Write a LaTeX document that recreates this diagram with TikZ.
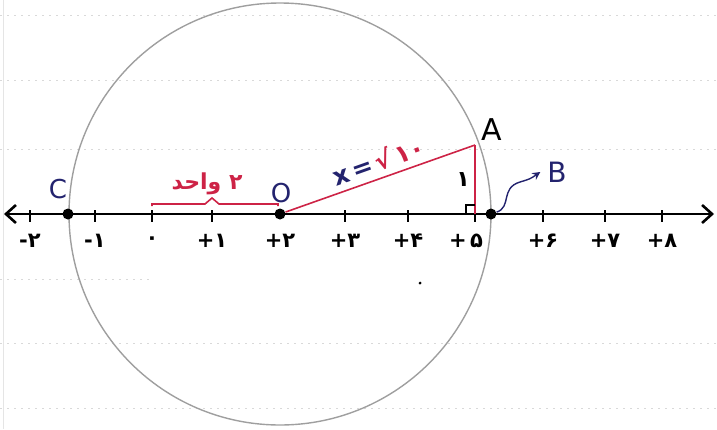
\documentclass[tikz,border=0pt]{standalone}
\usepackage{fontspec}
\setmainfont{DejaVu Sans}
\newfontfamily\arabicfont[Script=Arabic]{DejaVu Sans}
\TeXXeTstate=1
\usetikzlibrary{arrows.meta}
\definecolor{inkred}{RGB}{205,35,70}
\definecolor{inknavy}{RGB}{35,35,110}
\tikzset{
  axisline/.style={line width=1.3pt, black, {Straight Barb[length=5pt,width=9pt]}-{Straight Barb[length=5pt,width=9pt]}},
  tick/.style={line width=1pt, black},
  dot/.style={circle, fill=black, inner sep=0pt, minimum size=5.5pt},
  numlabel/.style={font=\bfseries\fontsize{10.5}{11}\selectfont, black},
  ptlabel/.style={font=\fontsize{13}{14}\selectfont},
  paperline/.style={gray!30, line width=0.4pt, dash pattern=on 1pt off 2.5pt},
  circ/.style={gray!75, line width=0.7pt},
  redline/.style={inkred, line width=0.8pt},
}
\begin{document}
\begin{tikzpicture}[x=0.5pt,y=-0.5pt]
\useasboundingbox (0,0) rectangle (717,429);
% faint notebook lines
\foreach \yy in {15,80,149,343,408} \draw[paperline] (0,\yy) -- (717,\yy);
\draw[paperline] (0,279) -- (150,279);
\draw[gray!20, line width=0.3pt] (3,0) -- (3,429);
% circle
\coordinate (Oc) at (280,214);
\draw[circ] (Oc) circle[radius=211];
% axis
\coordinate (L) at (4,214);
\coordinate (R) at (714,214);
\draw[axisline] (L) -- (R);
% ticks and labels
\foreach \xx/\lab in {30/-۲,95/-۱,152/۰,212/+۱,345/+۳,408/+۴,543/+۶,605/+۷,662/+۸}{
  \draw[tick] (\xx,210) -- (\xx,222);
  \node[numlabel] at (\xx,241) {\lab};
}
\node[numlabel] at (280,241) {+۲};
\node[numlabel] at (466,241) {+\,۵};
\draw[tick] (475,210) -- (475,222);
% points
\node[dot] (C) at (68,214) {};
\node[dot] (O) at (280,214) {};
\node[dot] (B) at (491,214) {};
\coordinate (A) at (475,145);
\coordinate (F) at (475,214);
\node[ptlabel, inknavy] (Clab) at (58,189) {C};
\node[ptlabel, inknavy] (Olab) at (281,193) {O};
\node[ptlabel, black, font=\fontsize{15}{16}\selectfont] (Alab) at (492,130) {A};
\node[ptlabel, inknavy, font=\fontsize{14}{15}\selectfont] (Blab) at (557,172) {B};
% triangle
\draw[redline] (O) -- node[sloped, above, pos=0.52, inner sep=3pt, font=\bfseries\fontsize{12.5}{13}\selectfont]
  {\textcolor{inknavy}{x\,=\,}\textcolor{inkred}{√\,۱۰}} (A);
\draw[redline, line width=1.1pt] (A) -- (F);
\draw[black, line width=0.7pt] (475,205) -- (466,205) -- (466,214);
\node[font=\bfseries\fontsize{11}{12}\selectfont, black] (one) at (463,180) {۱};
% brace
\coordinate (b1) at (152,206);
\coordinate (b2) at (278,206);
\coordinate (bm) at (212,198);
\draw[inkred, line width=0.8pt] (b1) -- (152,204) -- (205,204) -- (bm) -- (219,204) -- (278,204) -- (b2);
\node[font=\arabicfont\bfseries\fontsize{11}{12}\selectfont, inkred] (blab) at (207,184) {\beginR ۲ واحد\endR};
% curly arrow to B
\draw[inknavy, line width=0.7pt, -{Stealth[length=4pt,width=4pt]}]
  (B) .. controls (512,207) and (500,188) .. (520,182) .. controls (530,179) .. (Blab.west);
% stray dot
\fill (420,283) circle[radius=1.5];
\end{tikzpicture}
\end{document}
